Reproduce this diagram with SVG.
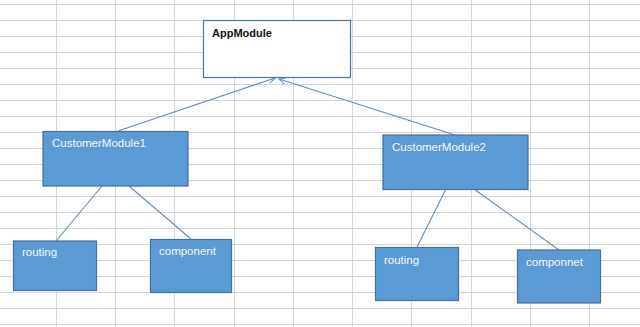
<svg xmlns="http://www.w3.org/2000/svg" width="640" height="327" viewBox="0 0 640 327">
<defs>
<style>
.grid line{stroke:#d6d6d6;stroke-width:1}
.box{fill:#5b9bd5;stroke:#41719c;stroke-width:1.2}
.app{fill:#ffffff;stroke:#4472c4;stroke-width:1.2}
.lbl{font-family:"Liberation Sans",Arial,sans-serif;font-size:11.5px;fill:#f4f8ff}
.applbl{font-family:"Liberation Sans",Arial,sans-serif;font-size:11px;font-weight:bold;fill:#111111}
.conn line{stroke:#5b8fc8;stroke-width:1.1;fill:none}
</style>
<marker id="arr" viewBox="0 0 10 10" refX="9" refY="5" markerWidth="8" markerHeight="8" orient="auto" markerUnits="userSpaceOnUse">
<path d="M1,1 L9,5 L1,9" fill="none" stroke="#5b8fc8" stroke-width="1.3"/>
</marker>
</defs>
<rect width="640" height="327" fill="#ffffff"/>
<g class="grid">
<line x1="56.5" y1="0" x2="56.5" y2="327"/>
<line x1="115.5" y1="0" x2="115.5" y2="327"/>
<line x1="174.5" y1="0" x2="174.5" y2="327"/>
<line x1="234.5" y1="0" x2="234.5" y2="327"/>
<line x1="293.5" y1="0" x2="293.5" y2="327"/>
<line x1="352.5" y1="0" x2="352.5" y2="327"/>
<line x1="411.5" y1="0" x2="411.5" y2="327"/>
<line x1="471.5" y1="0" x2="471.5" y2="327"/>
<line x1="530.5" y1="0" x2="530.5" y2="327"/>
<line x1="589.5" y1="0" x2="589.5" y2="327"/>
<line x1="0" y1="4.5" x2="640" y2="4.5"/>
<line x1="0" y1="20.5" x2="640" y2="20.5"/>
<line x1="0" y1="36.5" x2="640" y2="36.5"/>
<line x1="0" y1="52.5" x2="640" y2="52.5"/>
<line x1="0" y1="68.5" x2="640" y2="68.5"/>
<line x1="0" y1="84.5" x2="640" y2="84.5"/>
<line x1="0" y1="100.5" x2="640" y2="100.5"/>
<line x1="0" y1="116.5" x2="640" y2="116.5"/>
<line x1="0" y1="132.5" x2="640" y2="132.5"/>
<line x1="0" y1="148.5" x2="640" y2="148.5"/>
<line x1="0" y1="164.5" x2="640" y2="164.5"/>
<line x1="0" y1="180.5" x2="640" y2="180.5"/>
<line x1="0" y1="196.5" x2="640" y2="196.5"/>
<line x1="0" y1="212.5" x2="640" y2="212.5"/>
<line x1="0" y1="228.5" x2="640" y2="228.5"/>
<line x1="0" y1="244.5" x2="640" y2="244.5"/>
<line x1="0" y1="260.5" x2="640" y2="260.5"/>
<line x1="0" y1="276.5" x2="640" y2="276.5"/>
<line x1="0" y1="292.5" x2="640" y2="292.5"/>
<line x1="0" y1="308.5" x2="640" y2="308.5"/>
<line x1="0" y1="324.5" x2="640" y2="324.5"/>
</g>
<g class="conn">
<line x1="118" y1="131" x2="275" y2="78" marker-end="url(#arr)"/>
<line x1="455" y1="135" x2="279" y2="79" marker-end="url(#arr)"/>
<line x1="102" y1="186" x2="56" y2="241"/>
<line x1="129" y1="186" x2="191" y2="239"/>
<line x1="446" y1="189" x2="417" y2="247"/>
<line x1="474" y1="189" x2="559" y2="250"/>
</g>
<g id="appmodule">
<rect class="app" x="203.5" y="20.5" width="147" height="57"/>
<text class="applbl" x="212" y="37">AppModule</text>
</g>
<g id="customermodule1">
<rect class="box" x="43" y="131.5" width="145" height="54.5"/>
<text class="lbl" x="52" y="147">CustomerModule1</text>
</g>
<g id="customermodule2">
<rect class="box" x="383" y="135" width="145" height="54.5"/>
<text class="lbl" x="392" y="151">CustomerModule2</text>
</g>
<g id="routing1">
<rect class="box" x="13.5" y="241" width="83" height="49.5"/>
<text class="lbl" x="22" y="256">routing</text>
</g>
<g id="component">
<rect class="box" x="150.5" y="239.5" width="81" height="53"/>
<text class="lbl" x="159" y="255">component</text>
</g>
<g id="routing2">
<rect class="box" x="375.5" y="247.5" width="83" height="53"/>
<text class="lbl" x="384" y="263.5">routing</text>
</g>
<g id="componnet">
<rect class="box" x="517.5" y="250" width="83" height="53"/>
<text class="lbl" x="526" y="265.5">componnet</text>
</g>
</svg>
